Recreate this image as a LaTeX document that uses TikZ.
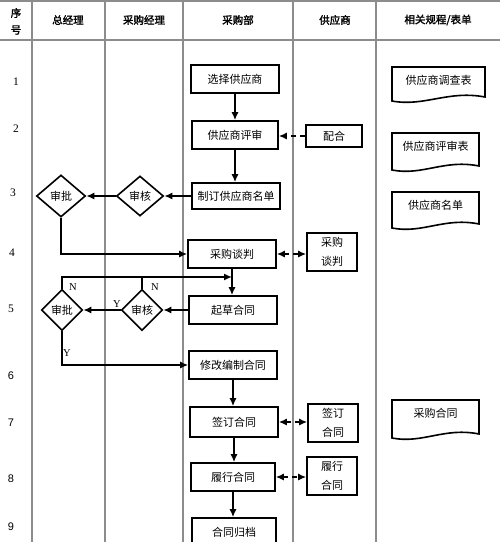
\documentclass[tikz,border=0pt]{standalone}
\usepackage{fontspec}
\setmainfont{Noto Sans CJK SC}
\newfontfamily\hdfont[FakeBold=1.8]{Noto Sans CJK SC}
\newfontfamily\numserif{Liberation Serif}
\newfontfamily\numsans{Liberation Sans}
\usetikzlibrary{arrows.meta,shapes.geometric}
\tikzset{
  gridline/.style={draw=black!45, line width=1.5pt},
  hd/.style={font=\hdfont\fontsize{10.5}{12}\selectfont, inner sep=0pt},
  num/.style={font=\numserif\fontsize{11.5}{12}\selectfont, inner sep=0pt},
  nums/.style={font=\numsans\fontsize{11}{12}\selectfont, inner sep=0pt},
  stepbox/.style={draw, rectangle, line width=1.6pt, inner sep=0pt, font=\fontsize{11}{13}\selectfont},
  twobox/.style={stepbox, align=center, font=\fontsize{11}{19}\selectfont},
  dia/.style={draw, diamond, line width=1.6pt, inner sep=0pt, font=\fontsize{11}{13}\selectfont},
  docnode/.style={inner sep=0pt, font=\fontsize{11}{13}\selectfont},
  docline/.style={draw, line width=1.6pt},
  arr/.style={-{Latex[length=8pt,width=7pt]}, line width=1.5pt},
  darr/.style={-{Latex[length=8pt,width=7pt]}, line width=1.5pt, dash pattern=on 5pt off 4pt},
  ddarr/.style={{Latex[length=8pt,width=7pt]}-{Latex[length=8pt,width=7pt]}, line width=1.5pt, dash pattern=on 5pt off 4pt},
  lbl/.style={font=\numserif\fontsize{10.5}{11}\selectfont, inner sep=0pt},
}
\newcommand\docbox[6]{%
  \node[docnode] (#1) at ({(#2+#3)/2},{#4+13.5}) {#6};
  \draw[docline] (#2,#4) -- (#3,#4) -- (#3,{#5-4}) .. controls ({#2+0.6*(#3-#2)},{#5-11}) and ({#2+0.35*(#3-#2)},{#5+6}) .. (#2,#5) -- cycle;
}
\begin{document}
\begin{tikzpicture}[x=1pt,y=-1pt]
\useasboundingbox (0,0) rectangle (500,542);
% grid
\draw[gridline] (0,1) -- (500,1);
\draw[gridline, line width=2pt] (0,40) -- (500,40);
\foreach \xx in {32,105,183,293,376} { \draw[gridline] (\xx,0) -- (\xx,542); }
% header
\node[hd] (h0a) at (16,13) {序};
\node[hd] (h0b) at (16,30) {号};
\node[hd] (h1) at (68,20) {总经理};
\node[hd] (h2) at (144,20) {采购经理};
\node[hd] (h3) at (238,20) {采购部};
\node[hd] (h4) at (335,20) {供应商};
\node[hd] (h5) at (438,20) {相关规程/表单};
% row numbers
\node[num] (n1) at (16,82) {1};
\node[num] (n2) at (16,129) {2};
\node[num] (n3) at (13,193) {3};
\node[num] (n4) at (12,253) {4};
\node[num] (n5) at (11,309) {5};
\node[nums] (n6) at (11,376) {6};
\node[nums] (n7) at (11,423) {7};
\node[nums] (n8) at (11,479) {8};
\node[nums] (n9) at (11,527) {9};
% purchasing department
\node[stepbox, minimum width=88pt, minimum height=28pt] (s1) at (235,79) {选择供应商};
\node[stepbox, minimum width=86pt, minimum height=28pt] (s2) at (235,135) {供应商评审};
\node[stepbox, minimum width=88pt, minimum height=26pt] (s3) at (236,196) {制订供应商名单};
\node[stepbox, minimum width=88pt, minimum height=28pt] (s4) at (232,254) {采购谈判};
\node[stepbox, minimum width=88pt, minimum height=28pt] (s5) at (233,310) {起草合同};
\node[stepbox, minimum width=88pt, minimum height=28pt] (s6) at (233,365) {修改编制合同};
\node[stepbox, minimum width=88pt, minimum height=30pt] (s7) at (234,422) {签订合同};
\node[stepbox, minimum width=84pt, minimum height=28pt] (s8) at (233,477) {履行合同};
\node[stepbox, minimum width=84pt, minimum height=28pt] (s9) at (234,532) {合同归档};
% supplier
\node[stepbox, minimum width=56pt, minimum height=22pt] (pei) at (334,136) {配合};
\node[twobox, minimum width=50pt, minimum height=38pt] (g4) at (332,252) {采购\\谈判};
\node[twobox, minimum width=50pt, minimum height=38pt] (g7) at (333,423) {签订\\合同};
\node[twobox, minimum width=50pt, minimum height=38pt] (g8) at (332,476) {履行\\合同};
% diamonds
\node[dia, minimum width=49pt, minimum height=42pt] (sp3) at (61,196) {审批};
\node[dia, minimum width=47pt, minimum height=40pt] (sh3) at (140,196) {审核};
\node[dia, minimum width=41pt, minimum height=41pt] (sp5) at (62,310) {审批};
\node[dia, minimum width=41pt, minimum height=41pt] (sh5) at (142,310) {审核};
% documents
\docbox{d1}{392}{485}{67}{101}{供应商调查表}
\docbox{d2}{392}{479}{133}{170}{供应商评审表}
\docbox{d3}{392}{479}{192}{228}{供应商名单}
\docbox{d4}{392}{479}{400}{438}{采购合同}
% connectors
\draw[arr] (s1.south) -- (s1.south |- s2.north);
\draw[arr] (s2.south) -- (s2.south |- s3.north);
\draw[darr] (pei.west) -- (pei.west -| s2.east);
\draw[arr] (s3.west) -- (sh3.east);
\draw[arr] (sh3.west) -- (sp3.east);
\draw[arr] (sp3.south) |- (s4.west);
\draw[ddarr] (s4.east) -- (s4.east -| g4.west);
\coordinate (j) at (s4.south |- 0,277);
\draw[arr] (s4.south) -- (s4.south |- s5.north);
\draw[arr] (sp5.north) |- (j);
\draw[line width=1.5pt] (sh5.north) -- (sh5.north |- j);
\draw[arr] (s5.west) -- (sh5.east);
\draw[arr] (sh5.west) -- (sp5.east);
\draw[arr] (sp5.south) |- (s6.west);
\draw[arr] (s6.south) -- (s6.south |- s7.north);
\draw[arr] (s7.south) -- (s7.south |- s8.north);
\draw[arr] (s8.south) -- (s8.south |- s9.north);
\draw[ddarr] (s7.east) -- (s7.east -| g7.west);
\draw[ddarr] (s8.east) -- (s8.east -| g8.west);
% labels
\node[lbl] (ln1) at (73,287) {N};
\node[lbl] (ln2) at (155,287) {N};
\node[lbl] (ly1) at (117,304) {Y};
\node[lbl] (ly2) at (67,353) {Y};
\end{tikzpicture}
\end{document}
